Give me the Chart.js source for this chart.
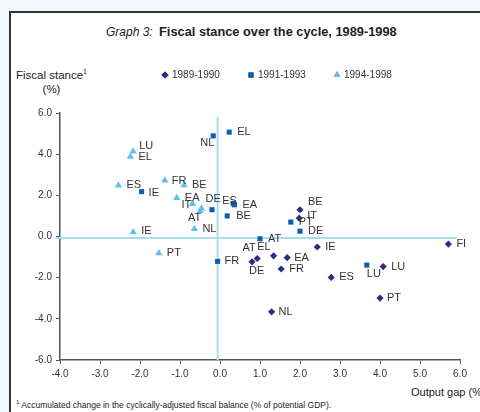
<!DOCTYPE html>
<html>
<head>
<meta charset="utf-8">
<script src="https://cdn.jsdelivr.net/npm/chart.js@4/dist/chart.umd.min.js"></script>
<style>
  body { margin: 0; background: #f1f8fc; font-family: "Liberation Sans", Arial, sans-serif; }
  #wrap { position: relative; width: 480px; height: 412px; overflow: hidden; }
  #box { position: absolute; left: 9px; top: 11px; width: 480px; height: 420px; border: 2px solid #333; background: #fff; }
  #title { position: absolute; left: 106px; top: 24px; font-size: 12px; color: #222; white-space: nowrap; }
  #title i { font-weight: normal; margin-right: 3px; }
  #title b { font-size: 12.8px; }
  #ytitle { position: absolute; left: 16px; top: 65px; font-size: 11.5px; color: #222; text-align: center; line-height: 14px; }
  #ytitle sup { font-size: 7px; }
  #xtitle { position: absolute; left: 411px; top: 386px; font-size: 11px; color: #222; white-space: nowrap; }
  #note { position: absolute; left: 16px; top: 399px; font-size: 8.5px; color: #222; white-space: nowrap; }
  #note sup { font-size: 6px; }
  canvas { position: absolute; left: 0; top: 0; }
</style>
</head>
<body>
<div id="wrap">
  <div id="box"></div>
  <div id="title"><i>Graph 3:</i> <b>Fiscal stance over the cycle, 1989-1998</b></div>
  <div id="ytitle">Fiscal stance<sup>1</sup><br>(%)</div>
  <div id="xtitle">Output gap (%)</div>
  <div id="note"><sup>1</sup> Accumulated change in the cyclically-adjusted fiscal balance (% of potential GDP).</div>
  <canvas id="myChart" width="480" height="412"></canvas>
</div>
<script>
// output gap (x) and fiscal stance (y) per country and period
let names8990 = ['BE', 'IT', 'IE', 'FI', 'DE', 'EL', 'AT', 'EA', 'FR', 'ES', 'LU', 'PT', 'NL'];
let gap8990 = [2.0, 1.98, 2.43, 5.71, 0.8, 0.93, 1.34, 1.68, 1.53, 2.78, 4.08, 4.0, 1.29];
let stance8990 = [1.3, 0.89, -0.51, -0.37, -1.23, -1.07, -0.94, -1.03, -1.58, -1.99, -1.46, -2.99, -3.66];

let names9193 = ['NL', 'EL', 'IE', 'ES', 'EA', 'BE', 'PT', 'DE', 'AT', 'FR', 'LU', 'IT'];
let gap9193 = [-0.17, 0.23, -1.96, 0.33, 0.36, 0.18, 1.77, 2.0, 1.0, -0.06, 3.67, -0.2];
let stance9193 = [4.89, 5.07, 2.18, 1.6, 1.54, 1.0, 0.7, 0.26, -0.11, -1.21, -1.39, 1.3];

let names9498 = ['LU', 'EL', 'ES', 'FR', 'BE', 'EA', 'IT', 'DE', 'AT', 'NL', 'IE', 'PT'];
let gap9498 = [-2.17, -2.24, -2.54, -1.38, -0.9, -1.08, -0.69, -0.46, -0.5, -0.64, -2.17, -1.53];
let stance9498 = [4.13, 3.88, 2.48, 2.72, 2.49, 1.87, 1.58, 1.36, 1.24, 0.37, 0.21, -0.81];

let periods = ['1989-1990', '1991-1993', '1994-1998'];
let xTicks = [-4, -3, -2, -1, 0, 1, 2, 3, 4, 5, 6];
let yTicks = [-6, -4, -2, 0, 2, 4, 6];

// label nudges in pixels [dx, dy] from the marker; null = no label
let nudge8990 = [[8, -8], [8, -2], [8, 0], [8, 0], [-3, 9], [0, -12], [-31, -8], [7, 0], [8, 0], [8, 0], [8, 0], [7, 0], [7, 0]];
let nudge9193 = [[-13, 7], [8, 0], [7, 1], [-11, -3], [8, 0], [9, 0], [8, 0], [8, 0], [8, 0], [7, 0], [0, 9], null];
let nudge9498 = [[6, -6], [8, 0], [8, 0], [7, 0], [8, 0], [8, 0], [-11, 1], [4, -10], [-12, 7], [8, 0], [8, -1], [8, 0]];

function toPoints(xs, ys) {
  let pts = [];
  for (let i = 0; i < xs.length; i++) {
    pts.push({ x: xs[i], y: ys[i] });
  }
  return pts;
}

const FONT = '"Liberation Sans", Arial, sans-serif';

const labelPlugin = {
  id: 'pointLabels',
  afterDatasetsDraw(chart) {
    const ctx = chart.ctx;
    ctx.save();
    ctx.font = '11px ' + FONT;
    ctx.fillStyle = '#333';
    ctx.textBaseline = 'middle';
    ctx.textAlign = 'left';
    chart.data.datasets.forEach(function(ds, di) {
      if (!ds.names) return;
      let meta = chart.getDatasetMeta(di);
      meta.data.forEach(function(el, i) {
        let n = ds.nudges[i];
        if (!n) return;
        ctx.fillText(ds.names[i], el.x + n[0], el.y + n[1]);
      });
    });

    // legend row
    let lx = [165, 251, 337];
    ctx.font = '10px ' + FONT;
    chart.data.datasets.forEach(function(ds, di) {
      if (!ds.names) return;
      Chart.helpers.drawPoint(ctx, {
        pointStyle: ds.pointStyle,
        radius: ds.legendRadius,
        borderWidth: 0
      }, lx[di], 75);
      ctx.fillStyle = ds.backgroundColor;
      ctx.fill();
      ctx.fillStyle = '#333';
      ctx.fillText(ds.label, lx[di] + 7, 75);
    });
    ctx.restore();
  }
};

const axisColor = '#555';

const config = {
  type: 'scatter',
  data: {
    datasets: [
      {
        label: periods[0],
        names: names8990,
        nudges: nudge8990,
        data: toPoints(gap8990, stance8990),
        pointStyle: 'rectRot',
        pointRadius: 3.6,
        legendRadius: 3.6,
        backgroundColor: '#2b2f83',
        borderColor: '#2b2f83',
        borderWidth: 0
      },
      {
        label: periods[1],
        names: names9193,
        nudges: nudge9193,
        data: toPoints(gap9193, stance9193),
        pointStyle: 'rect',
        pointRadius: 3.6,
        legendRadius: 3.6,
        backgroundColor: '#0b5fad',
        borderColor: '#0b5fad',
        borderWidth: 0
      },
      {
        label: periods[2],
        names: names9498,
        nudges: nudge9498,
        data: toPoints(gap9498, stance9498),
        pointStyle: 'triangle',
        pointRadius: 4.2,
        legendRadius: 3.8,
        backgroundColor: '#5ec0ee',
        borderColor: '#5ec0ee',
        borderWidth: 0
      },
      {
        // zero cross lines
        type: 'line',
        data: [{ x: -0.06, y: 5.83 }, { x: -0.06, y: -6 }],
        borderColor: '#aadcf2',
        borderWidth: 2,
        pointRadius: 0,
        clip: false,
        order: 10
      },
      {
        type: 'line',
        data: [{ x: -4.12, y: -0.07 }, { x: 5.92, y: -0.07 }],
        borderColor: '#aadcf2',
        borderWidth: 2,
        pointRadius: 0,
        clip: false,
        order: 10
      }
    ]
  },
  options: {
    responsive: false,
    animation: false,
    events: [],
    layout: { padding: { top: 113, right: 20, left: 0, bottom: 0 } },
    plugins: {
      legend: { display: false },
      tooltip: { enabled: false }
    },
    scales: {
      x: {
        type: 'linear',
        min: -4,
        max: 6,
        afterBuildTicks: function(scale) {
          scale.ticks = xTicks.map(v => ({ value: v }));
        },
        afterFit: function(scale) { scale.height = 52; },
        grid: { drawOnChartArea: false, drawTicks: true, tickLength: 4, color: axisColor },
        border: { display: true, color: axisColor, width: 1.5 },
        ticks: {
          color: '#333',
          padding: 4,
          maxRotation: 0,
          font: { family: FONT, size: 10 },
          callback: v => v.toFixed(1)
        }
      },
      y: {
        type: 'linear',
        min: -6,
        max: 6,
        afterBuildTicks: function(scale) {
          scale.ticks = yTicks.map(v => ({ value: v }));
        },
        afterFit: function(scale) { scale.width = 60; },
        grid: { drawOnChartArea: false, drawTicks: true, tickLength: 4, color: axisColor },
        border: { display: true, color: axisColor, width: 1.5 },
        ticks: {
          color: '#333',
          padding: 4,
          font: { family: FONT, size: 10 },
          callback: v => v.toFixed(1)
        }
      }
    }
  },
  plugins: [labelPlugin]
};

let canvasChart = document.getElementById('myChart');
new Chart(canvasChart, config);
</script>
</body>
</html>
